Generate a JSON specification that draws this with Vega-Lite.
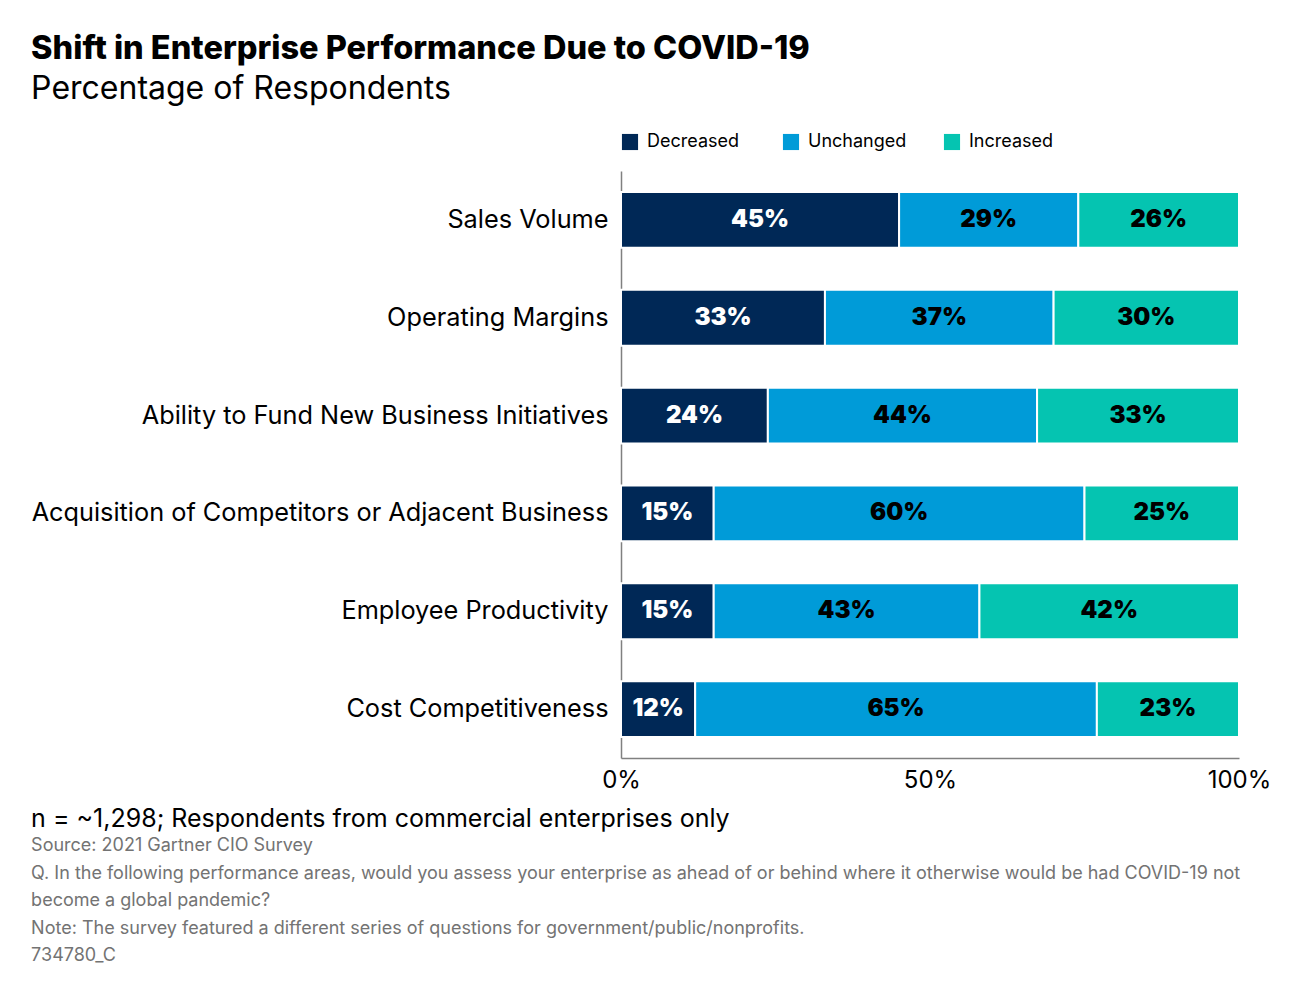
{
  "$schema": "https://vega.github.io/schema/vega-lite/v6.json",
  "padding": {"left": 31, "top": 32, "right": 10, "bottom": 10},
  "background": "white",
  "title": {
    "text": "Shift in Enterprise Performance Due to COVID-19",
    "subtitle": "Percentage of Respondents",
    "anchor": "start",
    "frame": "bounds",
    "font": "Inter",
    "fontSize": 32.5,
    "fontWeight": 800,
    "color": "black",
    "subtitleFont": "Inter",
    "subtitleFontSize": 32,
    "subtitleColor": "black",
    "subtitlePadding": 9,
    "offset": 28
  },
  "data": {
    "values": [
      {"area": "Sales Volume", "status": "Decreased", "pct": 45},
      {"area": "Sales Volume", "status": "Unchanged", "pct": 29},
      {"area": "Sales Volume", "status": "Increased", "pct": 26},
      {"area": "Operating Margins", "status": "Decreased", "pct": 33},
      {"area": "Operating Margins", "status": "Unchanged", "pct": 37},
      {"area": "Operating Margins", "status": "Increased", "pct": 30},
      {"area": "Ability to Fund New Business Initiatives", "status": "Decreased", "pct": 24},
      {"area": "Ability to Fund New Business Initiatives", "status": "Unchanged", "pct": 44},
      {"area": "Ability to Fund New Business Initiatives", "status": "Increased", "pct": 33},
      {"area": "Acquisition of Competitors or Adjacent Business", "status": "Decreased", "pct": 15},
      {"area": "Acquisition of Competitors or Adjacent Business", "status": "Unchanged", "pct": 60},
      {"area": "Acquisition of Competitors or Adjacent Business", "status": "Increased", "pct": 25},
      {"area": "Employee Productivity", "status": "Decreased", "pct": 15},
      {"area": "Employee Productivity", "status": "Unchanged", "pct": 43},
      {"area": "Employee Productivity", "status": "Increased", "pct": 42},
      {"area": "Cost Competitiveness", "status": "Decreased", "pct": 12},
      {"area": "Cost Competitiveness", "status": "Unchanged", "pct": 65},
      {"area": "Cost Competitiveness", "status": "Increased", "pct": 23}
    ]
  },
  "vconcat": [
    {
      "width": 618,
      "height": 587,
      "title": {
        "text": "n = ~1,298; Respondents from commercial enterprises only",
        "subtitle": [
          "Source: 2021 Gartner CIO Survey",
          "Q. In the following performance areas, would you assess your enterprise as ahead of or behind where it otherwise would be had COVID-19 not",
          "become a global pandemic?",
          "Note: The survey featured a different series of questions for government/public/nonprofits.",
          "734780_C"
        ],
        "orient": "bottom",
        "anchor": "start",
        "frame": "bounds",
        "font": "Inter",
        "fontSize": 25,
        "fontWeight": "normal",
        "color": "black",
        "subtitleFont": "Inter",
        "subtitleFontSize": 18,
        "subtitleColor": "#737373",
        "subtitleLineHeight": 27.5,
        "subtitlePadding": 5,
        "offset": 15
      },
      "transform": [
        {"calculate": "indexof(['Decreased','Unchanged','Increased'], datum.status)", "as": "k"},
        {"calculate": "datum.pct + '%'", "as": "label"}
      ],
      "encoding": {
        "y": {
          "field": "area",
          "type": "nominal",
          "sort": null,
          "title": null,
          "scale": {"paddingInner": 0.43, "paddingOuter": 0.215},
          "axis": {
            "ticks": false,
            "labelFont": "Inter",
            "labelFontSize": 25.3,
            "labelColor": "black",
            "labelPadding": 13,
            "labelLimit": 700,
            "domainColor": "#808080",
            "domainWidth": 1.5
          }
        },
        "order": {"field": "k", "type": "quantitative"}
      },
      "layer": [
        {
          "mark": {"type": "bar", "stroke": "white", "strokeWidth": 2},
          "encoding": {
            "x": {
              "field": "pct",
              "type": "quantitative",
              "stack": "normalize",
              "title": null,
              "scale": {"domain": [0, 1], "nice": false},
              "axis": {
                "values": [0, 0.5, 1],
                "format": ".0%",
                "ticks": false,
                "grid": false,
                "labelFont": "Inter",
                "labelFontSize": 24,
                "labelColor": "black",
                "labelPadding": 10,
                "labelFlush": false,
                "domainColor": "#808080",
                "domainWidth": 1.5
              }
            },
            "color": {
              "field": "status",
              "type": "nominal",
              "sort": ["Decreased", "Unchanged", "Increased"],
              "title": null,
              "scale": {
                "domain": ["Decreased", "Unchanged", "Increased"],
                "range": ["#002856", "#009BD8", "#05C4B1"]
              },
              "legend": {
                "orient": "top",
                "direction": "horizontal",
                "columns": 3,
                "gridAlign": "all",
                "columnPadding": 36,
                "symbolType": "square",
                "symbolSize": 260,
                "symbolStrokeWidth": 0,
                "labelFont": "Inter",
                "labelFontSize": 18,
                "labelColor": "black",
                "labelOffset": 8,
                "offset": 20
              }
            }
          }
        },
        {
          "mark": {"type": "text", "font": "Inter", "fontSize": 24, "fontWeight": 900, "baseline": "middle", "align": "center"},
          "encoding": {
            "x": {"field": "pct", "type": "quantitative", "stack": "normalize", "bandPosition": 0.5},
            "detail": {"field": "status", "type": "nominal"},
            "text": {"field": "label", "type": "nominal"},
            "color": {
              "condition": {"test": "datum.status == 'Decreased'", "value": "white"},
              "value": "black"
            }
          }
        }
      ]
    }
  ],
  "config": {
    "view": {"stroke": null},
    "axis": {"grid": false}
  }
}
